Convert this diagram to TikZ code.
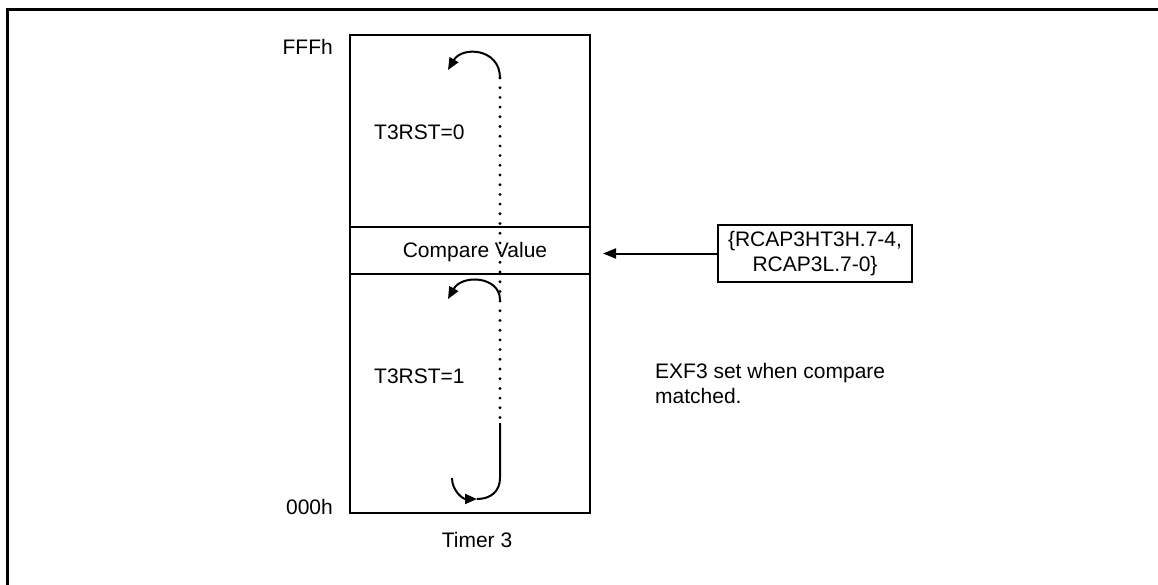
\documentclass[tikz,border=0pt]{standalone}
\usepackage{fontspec}
\setmainfont{Liberation Sans}
\usetikzlibrary{arrows.meta}
\tikzset{
  lbl/.style={inner sep=0pt, font=\fontsize{21}{25}\selectfont},
  boxline/.style={draw, line width=2pt},
  curve/.style={line width=2pt},
  tip/.style={-{Triangle[length=12pt,width=10pt]}},
}
\begin{document}
\begin{tikzpicture}[x=1pt,y=-1pt]
\useasboundingbox (0,0) rectangle (1158,584);
% outer frame (right and bottom edges lie outside the picture)
\draw[line width=3pt] (1170,9) -- (7,9) -- (7,600);
% timer box and compare band
\node[boxline, minimum width=240pt, minimum height=478pt, inner sep=0pt] (timer) at (470,274) {};
\node[boxline, minimum width=240pt, minimum height=47pt, inner sep=0pt] (cmp) at (470,250.5) {};
\node[lbl] (cmptxt) at (475,252) {Compare Value};
% labels
\node[lbl, anchor=east] (fff) at (333,47) {FFFh};
\node[lbl, anchor=east] (zero) at (333,507) {000h};
\node[lbl] (t3) at (477,540) {Timer 3};
\node[lbl, anchor=west] (r0) at (374,132) {T3RST=0};
\node[lbl, anchor=west] (r1) at (374,376) {T3RST=1};
\node[lbl, anchor=west, align=left] (exf) at (655,383) {EXF3 set when compare\\matched.};
% source box
\node[lbl, boxline, line width=1.5pt, minimum width=194pt, minimum height=57pt, align=center] (src) at (815,253.5) {\{RCAP3HT3H.7-4,\\RCAP3L.7-0\}};
\coordinate (tgt) at ([xshift=12pt]cmp.east |- src.west);
\draw[line width=2pt, -{Triangle[length=13pt,width=10pt]}] (src.west) -- (tgt);
% dotted count line
\coordinate (dtop) at (500,78);
\coordinate (d2) at (500,300);
\coordinate (dbot) at (500,423);
\draw[line width=3.2pt, line cap=round, dash pattern=on 0pt off 9.7pt] (dtop) -- (dbot);
% wrap-around arrows
\coordinate (a1) at (448,70);
\draw[curve, tip] (dtop) .. controls (500,48) and (462,46) .. (a1);
\coordinate (a2) at (448,299);
\draw[curve, tip] (d2) .. controls (500,276) and (462,274) .. (a2);
\coordinate (bl) at (452,478);
\coordinate (bb) at (477,499);
\coordinate (br) at (500,478);
\draw[curve, tip] (bl) .. controls (452,491) and (463,499) .. (bb);
\draw[curve] (bb) .. controls (491,499) and (500,491) .. (br) -- (dbot);
\end{tikzpicture}
\end{document}
